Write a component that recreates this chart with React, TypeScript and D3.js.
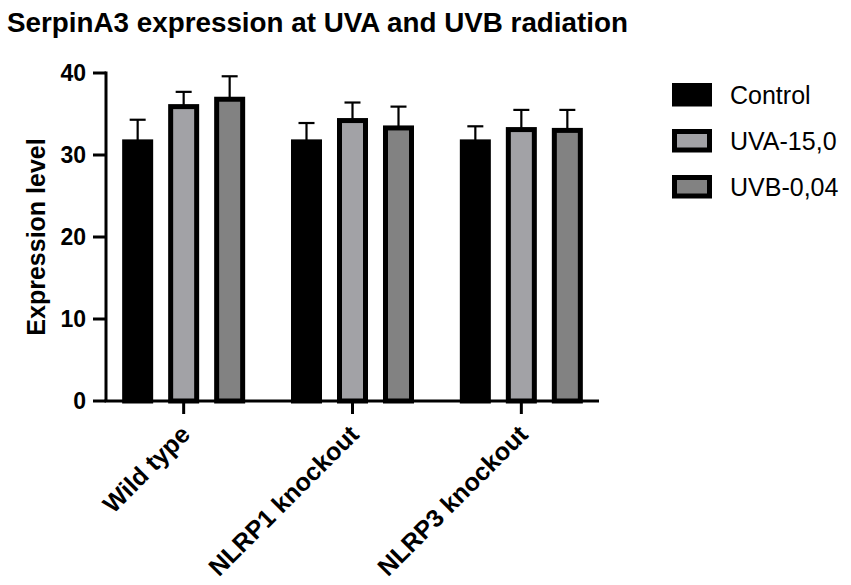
import React from "react";
import * as d3 from "d3";

const groups = ["Wild type", "NLRP1 knockout", "NLRP3 knockout"];
const series = ["Control", "UVA-15,0", "UVB-0,04"];
const controlMean = [31.6, 31.6, 31.6];
const controlErr = [2.7, 2.3, 1.9];
const uvaMean = [35.9, 34.2, 33.1];
const uvaErr = [1.8, 2.2, 2.4];
const uvbMean = [36.8, 33.3, 33.0];
const uvbErr = [2.8, 2.6, 2.5];
const yTicks = [0, 10, 20, 30, 40];
const fills = ["#000000", "#a2a2a6", "#828282"];

const means = [controlMean, uvaMean, uvbMean];
const errs = [controlErr, uvaErr, uvbErr];

const FONT = "'Liberation Sans', Arial, Helvetica, sans-serif";

export default function App() {
  const W = 851, H = 585;
  const axisX = 106;
  const axisY = 401;
  const y = d3.scaleLinear().domain([0, 40]).range([axisY, 73]);
  const x = d3.scalePoint<string>().domain(groups).range([axisX, 599]).padding(0.46);
  const inner = d3.scaleBand<string>().domain(series).range([-69, 69]).paddingInner(0.326).paddingOuter(0.163);
  const bw = inner.bandwidth();
  const sw = 5;

  return (
    <div style={{ position: "absolute", left: 0, top: 0 }}>
      <svg width={W} height={H} style={{ display: "block", background: "#fff" }} fontFamily={FONT}>
        <text x={7} y={32} fontSize={27.8} fontWeight="bold" fill="#000">
          SerpinA3 expression at UVA and UVB radiation
        </text>
        {/* bars */}
        {groups.map((g, gi) =>
          series.map((s, si) => {
            const cx = (x(g) as number) + (inner(s) as number);
            const v = means[si][gi];
            const e = errs[si][gi];
            const top = y(v);
            const errTop = y(v + e);
            const mid = cx + bw / 2;
            return (
              <g key={g + s}>
                <line x1={mid} x2={mid} y1={top} y2={errTop} stroke="#000" strokeWidth={2.2} />
                <line x1={mid - 8} x2={mid + 8} y1={errTop} y2={errTop} stroke="#000" strokeWidth={2.2} />
                <rect
                  x={cx + sw / 2}
                  y={top}
                  width={bw - sw}
                  height={axisY - top}
                  fill={fills[si]}
                  stroke="#000"
                  strokeWidth={sw}
                />
              </g>
            );
          })
        )}
        {/* y axis */}
        <line x1={axisX} x2={axisX} y1={y(40) - 1.5} y2={axisY} stroke="#000" strokeWidth={3} />
        {yTicks.map((t) => (
          <g key={t}>
            <line x1={93} x2={axisX} y1={y(t)} y2={y(t)} stroke="#000" strokeWidth={3} />
            <text x={86} y={y(t)} dy="0.36em" textAnchor="end" fontSize={23} fontWeight="bold">
              {t}
            </text>
          </g>
        ))}
        <text
          transform={`translate(45, ${(y(0) + y(40)) / 2}) rotate(-90)`}
          textAnchor="middle"
          fontSize={25}
          fontWeight="bold"
        >
          Expression level
        </text>
        {/* x axis */}
        <line x1={axisX - 1.5} x2={599} y1={axisY} y2={axisY} stroke="#000" strokeWidth={3} />
        {groups.map((g) => (
          <g key={g}>
            <line x1={x(g)} x2={x(g)} y1={axisY} y2={414} stroke="#000" strokeWidth={3} />
            <text
              transform={`translate(${(x(g) as number) + 8}, 436) rotate(-45)`}
              textAnchor="end"
              fontSize={25}
              fontWeight="bold"
            >
              {g}
            </text>
          </g>
        ))}
        {/* legend */}
        {series.map((s, si) => (
          <g key={s} transform={`translate(672, ${83 + si * 46})`}>
            <rect
              x={si === 0 ? 0 : 2.5}
              y={si === 0 ? 0 : 2.5}
              width={si === 0 ? 40 : 35}
              height={si === 0 ? 23.5 : 18.5}
              fill={fills[si]}
              stroke="#000"
              strokeWidth={si === 0 ? 0 : 5}
            />
            <text x={58} y={12} dy="0.36em" fontSize={25}>
              {s}
            </text>
          </g>
        ))}
      </svg>
    </div>
  );
}
